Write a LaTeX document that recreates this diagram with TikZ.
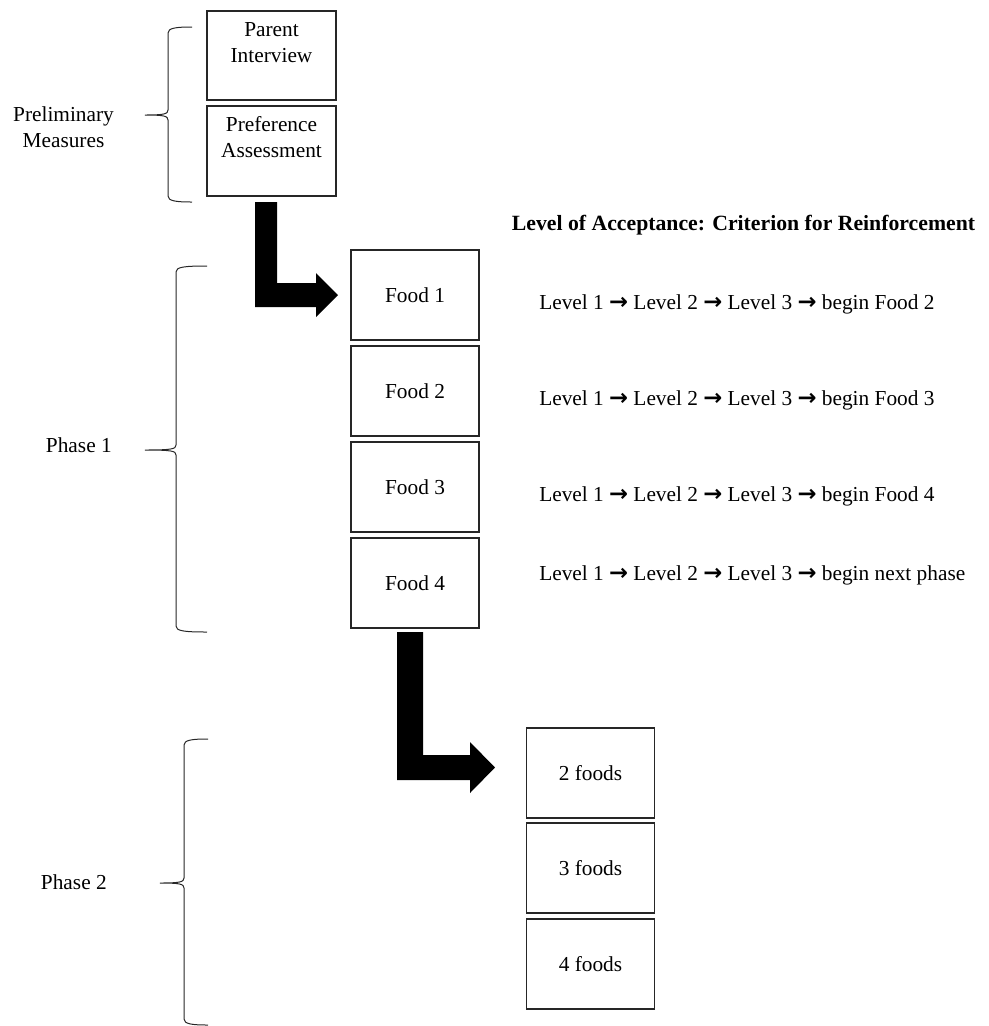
\documentclass[tikz,border=0pt]{standalone}
\usepackage{fontspec}
\setmainfont{Liberation Serif}
\newfontfamily\arrowfont{DejaVu Sans}
\usetikzlibrary{positioning}
\tikzset{
    box/.style = {draw=black!85, line width=0.8pt, inner sep=0pt, outer sep=0pt, minimum width=96pt, minimum height=67.5pt, align=center},
    prebox/.style = {box, minimum width=96.75pt},
    tlabel/.style = {inner sep=0pt, align=center},
    bracepath/.style = {draw=black!85, line width=0.75pt},
    bigarrow/.style = {fill=black}
}
\newcommand{\lvlarrow}{{\arrowfont\bfseries\fontsize{17}{17}\selectfont →}}
% end x, stem x, tip x, top y, tip y, bottom y
\newcommand{\sidebrace}[6]{%
    \draw[bracepath] (#1,#4) .. controls (#2+8,#4) and (#2,#4+1) .. (#2,#4+6)
        -- (#2,#5-5) .. controls (#2,#5-1) and (#2-4,#5) .. (#3,#5)
        .. controls (#2-4,#5) and (#2,#5+1) .. (#2,#5+5)
        -- (#2,#6-6) .. controls (#2,#6-1) and (#2+8,#6) .. (#1,#6);}

\begin{document}
\begin{tikzpicture}[x=0.75pt, y=-0.75pt, font=\fontsize{16}{19.5}\selectfont]
    \useasboundingbox (0,0) rectangle (989,1026);

    % preliminary measures
    \node [prebox, minimum height=66.75pt] (parent) at (271.5,55.5) {};
    \node [tlabel, anchor=base] (parenttxt) at (271.5,62) {Parent\\Interview};
    \node [prebox] (pref) at (271.5,151) {};
    \node [tlabel, anchor=base] (preftxt) at (271.5,157) {Preference\\Assessment};
    \sidebrace{192}{168}{145}{27}{115}{202}
    \node [tlabel, anchor=base] (prelim) at (63.5,147) {Preliminary\\Measures};

    % phase 1
    \node [box] (food1) at (415,295) {Food 1};
    \node [box, below=4.5pt of food1] (food2) {Food 2};
    \node [box, below=4.5pt of food2] (food3) {Food 3};
    \node [box, below=4.5pt of food3] (food4) {Food 4};
    \sidebrace{207}{176}{145}{266}{450}{632}
    \node [tlabel, anchor=base east] (phase1) at (112,452) {Phase 1};

    \node [tlabel, font=\fontsize{16.3}{19.5}\selectfont\bfseries, anchor=base] (crit) at (743.5,230)
        {Level of Acceptance: Criterion for Reinforcement};
    \foreach \y/\nxt [count=\i] in {309/begin Food 2, 405/begin Food 3, 501/begin Food 4, 580/begin next phase}
        \node [tlabel, anchor=base west] (level\i) at (539,\y)
            {Level 1 \lvlarrow{} Level 2 \lvlarrow{} Level 3 \lvlarrow{} \nxt};

    % phase 2
    \node [box] (two) at (590.5,773) {2 foods};
    \node [box, below=3.75pt of two] (three) {3 foods};
    \node [box, below=4.5pt of three] (four) {4 foods};
    \sidebrace{208}{184}{160}{739}{883}{1025}
    \node [tlabel, anchor=base east] (phase2) at (107,889) {Phase 2};

    % block arrows
    \fill [bigarrow] (255,202) -- (277,202) -- (277,283) -- (316,283) -- (316,273)
        -- (338,295) -- (316,317) -- (316,307) -- (255,307) -- cycle;
    \fill [bigarrow] (397,632) -- (423,632) -- (423,755) -- (470,755) -- (470,742)
        -- (495,767.5) -- (470,793) -- (470,780) -- (397,780) -- cycle;
\end{tikzpicture}
\end{document}
